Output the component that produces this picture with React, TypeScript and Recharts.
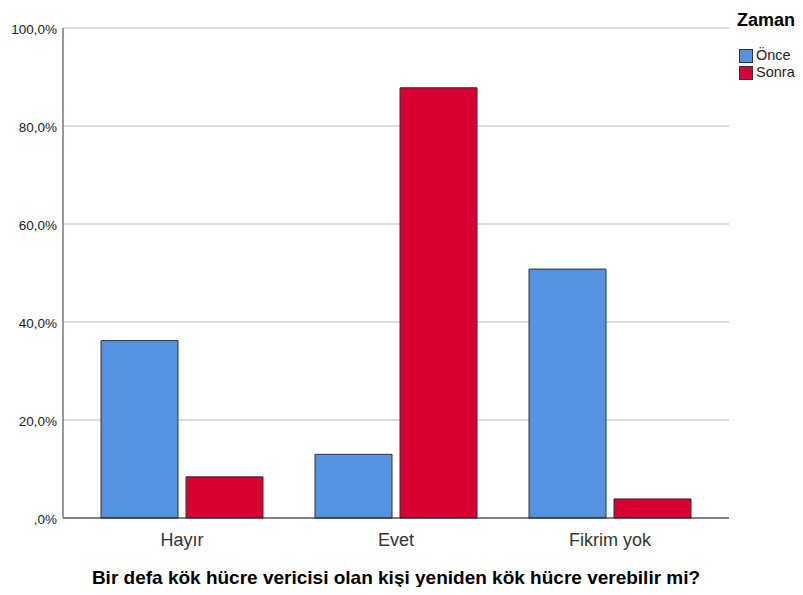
import { BarChart, Bar, XAxis, YAxis, CartesianGrid } from "recharts"

const categories = ["Hayır", "Evet", "Fikrim yok"]
const onceValues = [36.2, 13.0, 50.8]
const sonraValues = [8.4, 87.8, 3.9]
const yTicks = [0, 20, 40, 60, 80, 100]

const series = [
  { key: "once", name: "Önce", color: "#5592e0" },
  { key: "sonra", name: "Sonra", color: "#d60032" },
]

const data = categories.map((c, i) => ({
  category: c,
  once: onceValues[i],
  sonra: sonraValues[i],
}))

const formatPct = (v: number) => {
  if (v === 0) return ",0%"
  return v.toFixed(1).replace(".", ",") + "%"
}

export default function App() {
  return (
    <div style={{ position: "relative", margin: -8, width: 803, height: 595, background: "#fff", fontFamily: "'Liberation Sans', Arial, sans-serif" }}>
      <BarChart
        width={803}
        height={595}
        data={data}
        margin={{ top: 28, right: 74, bottom: 0, left: 0 }}
        barGap={8}
        barCategoryGap={26}
      >
        <CartesianGrid horizontal vertical={false} stroke="#d0d0d0" strokeWidth={1.5} />
        <XAxis
          dataKey="category"
          height={77}
          padding={{ left: 12, right: 12 }}
          tickLine={false}
          axisLine={{ stroke: "#222", strokeWidth: 1 }}
          tick={{ fontSize: 18, fill: "#333" }}
          tickMargin={9}
          label={{
            value: "Bir defa kök hücre vericisi olan kişi yeniden kök hücre verebilir mi?",
            position: "insideBottom",
            offset: 11,
            style: { fontSize: 19, fontWeight: "bold", fill: "#000" },
          }}
        />
        <YAxis
          width={63}
          domain={[0, 100]}
          ticks={yTicks}
          tickFormatter={formatPct}
          tickLine={false}
          axisLine={{ stroke: "#777", strokeWidth: 1.5 }}
          tick={{ fontSize: 13.5, fill: "#222", dy: 1 }}
          tickMargin={0}
        />
        {series.map((s) => (
          <Bar
            key={s.key}
            dataKey={s.key}
            name={s.name}
            fill={s.color}
            stroke="#333"
            strokeWidth={1}
            isAnimationActive={false}
          />
        ))}
      </BarChart>
      <div style={{ position: "absolute", left: 737, top: 11, fontSize: 18, lineHeight: 1, fontWeight: "bold", color: "#000", whiteSpace: "nowrap" }}>Zaman</div>
      {series.map((s, i) => (
        <div
          key={s.key}
          style={{ position: "absolute", left: 739, top: 48 + i * 17, height: 15, display: "flex", alignItems: "center", fontSize: 14.5, lineHeight: 1, color: "#222", whiteSpace: "nowrap" }}
        >
          <span style={{ display: "inline-block", flexShrink: 0, boxSizing: "border-box", width: 14, height: 14, background: s.color, border: "1px solid #333", marginRight: 3 }} />
          {s.name}
        </div>
      ))}
    </div>
  )
}
